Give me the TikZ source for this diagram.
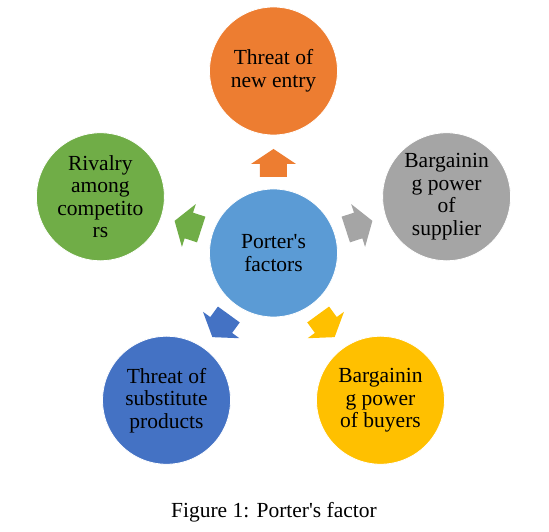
\documentclass[tikz,border=0pt]{standalone}
\usepackage{fontspec}
\setmainfont{Liberation Serif}
\usepackage{xcolor}
\usetikzlibrary{positioning}
\definecolor{pfblue}{HTML}{5B9BD5}
\definecolor{pforange}{HTML}{ED7D31}
\definecolor{pfgrey}{HTML}{A5A5A5}
\definecolor{pfgold}{HTML}{FFC000}
\definecolor{pfdark}{HTML}{4472C4}
\definecolor{pfgreen}{HTML}{70AD47}

\begin{document}
\begin{tikzpicture}[x=1pt, y=1pt,
    factor/.style={circle, draw=white, line width=0.8pt, minimum size=128pt,
      inner sep=0pt, align=center, font=\fontsize{21.5}{22.5}\selectfont}]
    \useasboundingbox (-273.5,-279) rectangle (275.5,253);
    \node[factor, fill=pfblue] (pf) at (0,0) {Porter\textquotesingle s\\factors};
    \node[factor, fill=pforange] (entry) at (90:182) {Threat of\\new entry};
    \node[factor, fill=pfgrey] (supplier) at (18:182) {Bargainin\\g power\\of\\supplier};
    \node[factor, fill=pfgold] (buyers) at (-54:182) {Bargainin\\g power\\of buyers};
    \node[factor, fill=pfdark] (subst) at (-126:182) {Threat of\\substitute\\products};
    \node[factor, fill=pfgreen] (rivalry) at (162:182) {Rivalry\\among\\competito\\rs};
    % block arrows from the middle circle
    \foreach \a/\c in {90/pforange, 18/pfgrey, -54/pfgold, -126/pfdark, 162/pfgreen}
      \fill[\c, shift={(pf.center)}, rotate=\a]
        (76,-13.5) -- (89,-13.5) -- (89,-22.5) -- (104,0) -- (89,22.5) -- (89,13.5) -- (76,13.5) -- cycle;
    \node[anchor=base, font=\fontsize{21.5}{22.5}\selectfont] (cap) at (0.5,-264)
      {Figure 1: Porter\textquotesingle s factor};
  \end{tikzpicture}
\end{document}
